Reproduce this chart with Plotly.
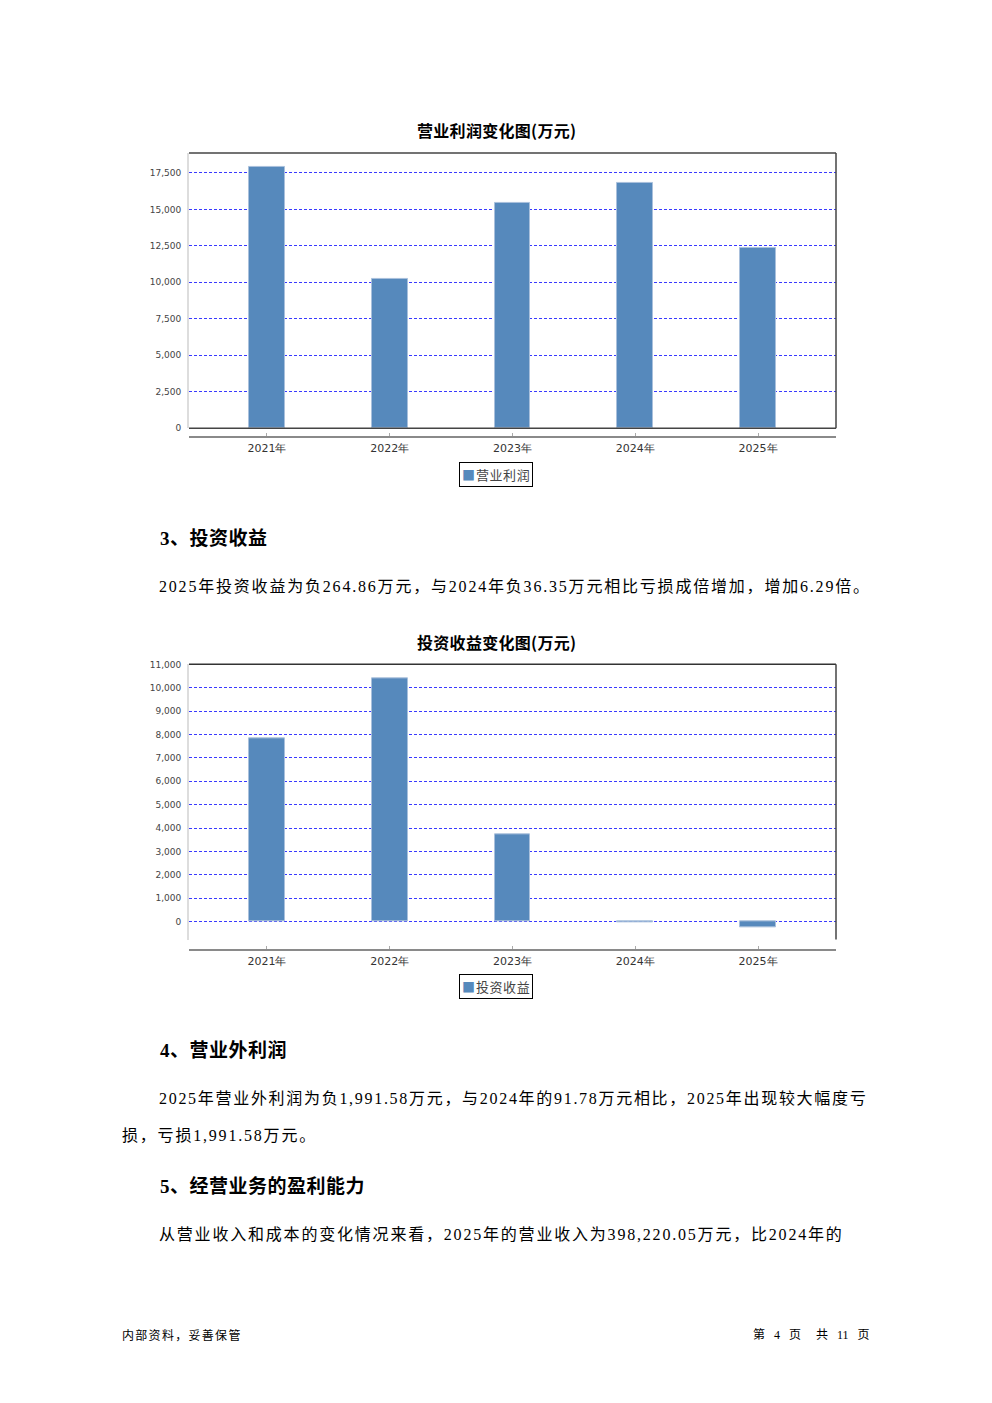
import plotly.graph_objects as go

# ---------------- data ----------------
years = ["2021年", "2022年", "2023年", "2024年", "2025年"]
op_profit = [17912, 10248, 15442, 16835, 12353]          # 营业利润 (万元)
inv_income = [7833, 10402, 3724, -36.35, -264.86]        # 投资收益 (万元)
op_ticks = [0, 2500, 5000, 7500, 10000, 12500, 15000, 17500]
inv_ticks = [0, 1000, 2000, 3000, 4000, 5000, 6000, 7000, 8000, 9000, 10000, 11000]

W, H = 992, 1403
# map target-page pixel coordinates to paper coordinates (compensating page offset)
def px(x): return (x - 8) / W
def py(y): return 1 - ((y - 12.2) / 0.992) / H

BAR = "#5689BC"
GRID = "#3a3aff"
CJK = "Noto Sans CJK SC"
BODY = "Liberation Serif, Noto Sans CJK SC"

fig = go.Figure()
fig.add_trace(go.Bar(x=years, y=op_profit, name="营业利润", width=0.29,
                     marker=dict(color=BAR, line=dict(color="#a9c0dc", width=1)),
                     xaxis="x", yaxis="y", showlegend=False))
fig.add_trace(go.Bar(x=years, y=inv_income, name="投资收益", width=0.29,
                     marker=dict(color=BAR, line=dict(color="#a9c0dc", width=1)),
                     xaxis="x2", yaxis="y2", showlegend=False))

def xax(pos):
    return dict(domain=[px(189), px(836)], anchor="free", position=py(pos),
                type="category", range=[-0.635, 4.635], showline=True,
                linecolor="#8a8a8a", linewidth=1.5, ticks="inside", ticklen=3,
                tickcolor="#aaaaaa", showgrid=False, zeroline=False,
                tickfont=dict(family="DejaVu Sans", size=11, color="#333"),
                ticklabelstandoff=1, fixedrange=True)

def yax(top, bottom, rng, tv, anchor):
    return dict(domain=[py(bottom), py(top)], range=rng, tickvals=tv,
                tickformat=",", showline=True, linecolor="#dddddd", linewidth=2,
                showgrid=True, gridcolor=GRID, gridwidth=1, griddash="3px,2px",
                zeroline=False, ticks="", anchor=anchor,
                tickfont=dict(family="DejaVu Sans", size=9, color="#444"),
                ticklabelstandoff=4, fixedrange=True)

fig.update_layout(
    width=W, height=H, margin=dict(l=0, r=0, t=0, b=0),
    paper_bgcolor="white", plot_bgcolor="white", bargap=0, showlegend=False,
    xaxis=xax(436), yaxis=yax(152, 427, [0, 18873], op_ticks, "x"),
    xaxis2=xax(948), yaxis2=yax(663, 938, [-770, 11000], inv_ticks, "x2"),
)

shapes = []
def line(x0, y0, x1, y1, color="#444", w=1.5):
    shapes.append(dict(type="line", xref="paper", yref="paper",
                       x0=px(x0), y0=py(y0), x1=px(x1), y1=py(y1),
                       line=dict(color=color, width=w)))
# chart 1 outline
line(189, 152, 836, 152)
line(836, 152, 836, 427)
line(189, 427, 836, 427)
# chart 2 outline
line(189, 663, 836, 663, color="#333")
line(836, 663, 836, 938)
fig.update_layout(shapes=shapes)

ann = []
def text(x, y, s, size, bold=False, anchor="left", family=BODY, color="black", ls=0):
    s = f"<b>{s}</b>" if bold else s
    if ls:
        s = f"<span style='letter-spacing:{ls}px'>{s}</span>"
    ann.append(dict(xref="paper", yref="paper", x=px(x), y=py(y), text=s,
                    showarrow=False, xanchor=anchor, yanchor="middle",
                    font=dict(family=family, size=size, color=color)))

def legend_box(y, label):
    ann.append(dict(xref="paper", yref="paper", x=px(496), y=py(y),
                    text=f"<span style='color:{BAR}'>■</span><span style='font-size:4px'> </span>"
                         f"<span style='letter-spacing:0.6px'>{label}</span>",
                    showarrow=False, xanchor="center", yanchor="middle",
                    bordercolor="black", borderwidth=1, borderpad=2, bgcolor="white",
                    font=dict(family=CJK, size=13, color="#444")))

text(496, 129, "营业利润变化图(万元)", 16, bold=True, anchor="center", family=CJK, ls=0.3)
text(496, 641, "投资收益变化图(万元)", 16, bold=True, anchor="center", family=CJK, ls=0.3)
legend_box(473, "营业利润")
legend_box(985, "投资收益")

text(158, 537, "3、投资收益", 19, bold=True, ls=0.5)
text(157, 585, "2025年投资收益为负264.86万元，与2024年负36.35万元相比亏损成倍增加，增加6.29倍。", 16, ls=1.8)
text(158, 1048, "4、营业外利润", 19, bold=True, ls=0.5)
text(157, 1097, "2025年营业外利润为负1,991.58万元，与2024年的91.78万元相比，2025年出现较大幅度亏", 16, ls=1.7)
text(120, 1134, "损，亏损1,991.58万元。", 16, ls=1.8)
text(158, 1185, "5、经营业务的盈利能力", 19, bold=True, ls=0.5)
text(157, 1233, "从营业收入和成本的变化情况来看，2025年的营业收入为398,220.05万元，比2024年的", 16, ls=1.8)
text(120, 1333, "内部资料，妥善保管", 12, family=CJK, ls=1.3)
text(872, 1333, "第\u00a0\u00a0\u00a04\u00a0\u00a0\u00a0页\u00a0\u00a0\u00a0\u00a0\u00a0共\u00a0\u00a0\u00a011\u00a0\u00a0\u00a0页", 12, anchor="right", family=BODY)
fig.update_layout(annotations=ann)

fig.write_html("out.html")
